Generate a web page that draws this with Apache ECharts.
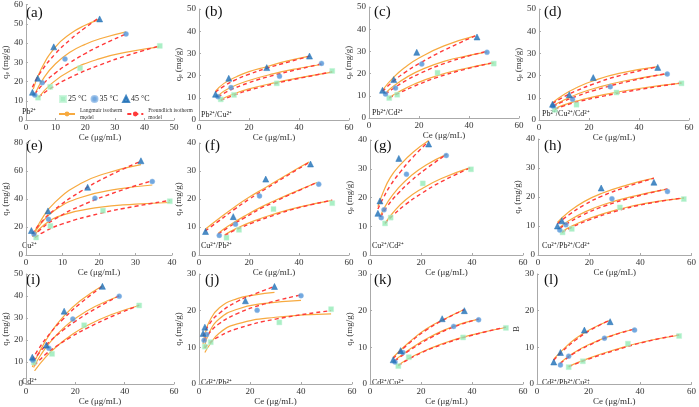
<!DOCTYPE html>
<html><head><meta charset="utf-8">
<script src="https://cdn.jsdelivr.net/npm/echarts@6/dist/echarts.min.js"></script>
<style>html,body{margin:0;padding:0;background:#fff}#c{width:699px;height:407px}</style>
</head><body><div id="c"></div>
<script>
// ---------------- DATA ----------------
const LETTERS = ['(a)','(b)','(c)','(d)','(e)','(f)','(g)','(h)','(i)','(j)','(k)','(l)'];
const METALS = ['Pb²⁺','Pb²⁺/Cu²⁺','Pb²⁺/Cd²⁺','Pb²⁺/Cu²⁺/Cd²⁺','Cu²⁺','Cu²⁺/Pb²⁺','Cu²⁺/Cd²⁺','Cu²⁺/Pb²⁺/Cd²⁺','Cd²⁺','Cd²⁺/Pb²⁺','Cd²⁺/Cu²⁺','Cd²⁺/Pb²⁺/Cu²⁺'];
const X_MAX = [50,60,60,60,40,60,60,60,60,60,60,60];
const X_STEP = [10,20,20,20,10,20,20,20,20,20,20,20];
const Y_MAX = [60,50,50,50,80,40,40,40,50,30,30,30];
const Y_STEP = [10,10,10,10,20,10,10,10,10,10,10,10];
const Y_NAMES = ['qₑ (mg/g)','qₑ (mg/g)','qₑ (mg/g)','qₑ (mg/g)','qₑ (mg/g)','qₑ (mg/g)','qₑ (mg/g)','qₑ (mg/g)','qₑ (mg/g)','qₑ (mg/g)','qₑ (mg/g)','B'];
const X_NAME = 'Ce (μg/mL)';
const TEMPS = ['25 °C','35 °C','45 °C'];
const LANG_NAME = 'Langmuir isotherm\nmodel';
const FREU_NAME = 'Freundlich isotherm\nmodel';

// (a)
const ptsA25 = [[4.1,11.6],[8.2,17.2],[18.3,26.9],[45.2,38.5]];
const ptsA35 = [[3.0,13.0],[5.5,19.4],[13.2,31.7],[33.8,44.7]];
const ptsA45 = [[2.2,14.4],[4.0,21.7],[9.4,38.0],[24.9,52.5]];
const langA25 = [[4.5,12.0],[8,18.0],[15,25.6],[25,31.9],[35,35.5],[45,38.0]];
const langA35 = [[3.2,14.0],[6,21.8],[10,29.2],[15,35.3],[20,39.3],[25,42.2],[33.8,45.8]];
const langA45 = [[2.5,16.0],[5,26.0],[10,38.0],[15,44.8],[20,49.2],[24.9,52.3]];
const freuA25 = [[4.3,11.8],[8,16.1],[15,22.1],[25,28.6],[35,33.9],[45.2,38.5]];
const freuA35 = [[3.0,13.5],[6,19.0],[10,24.5],[15,29.9],[20,34.5],[25,38.5],[33.8,44.7]];
const freuA45 = [[2.2,17.0],[5,24.9],[10,34.5],[15,41.8],[20,47.9],[24.9,53.4]];
// (b)
const ptsB25 = [[8.7,9.3],[14.0,11.3],[31.1,16.5],[53.3,22.1]];
const ptsB35 = [[7.6,10.5],[12.8,14.6],[32.2,19.7],[49.0,25.5]];
const ptsB45 = [[6.6,11.6],[11.9,18.8],[27.1,23.6],[44.2,28.8]];
const langB25 = [[8.7,9.2],[14,11.8],[20,14.0],[30,16.7],[42,19.4],[53.3,21.6]];
const langB35 = [[7.6,11],[12,14.3],[20,17.8],[30,20.9],[40,23.3],[49,25.0]];
const langB45 = [[6.6,13],[10,16.5],[15,19.5],[20,21.8],[27,24],[35,26.5],[44.2,28.8]];
const freuB25 = [[8.7,8.8],[14,11.2],[20,13.4],[30,16.3],[42,19.2],[53.3,21.7]];
const freuB35 = [[7.6,10.3],[12,13.2],[20,16.8],[30,20.2],[40,22.9],[49,25.3]];
const freuB45 = [[6.6,12.5],[10,15.3],[15,18.3],[20,20.6],[27,23.3],[35,25.9],[44.2,28.7]];
// (c)
const ptsC25 = [[8.1,9.0],[11.3,10.5],[27.4,20.4],[49.9,24.5]];
const ptsC35 = [[6.6,10.8],[10.6,13.5],[21.1,24.3],[47.2,29.6]];
const ptsC45 = [[5.4,12.5],[9.9,17.3],[19.1,29.6],[43.2,36.5]];
const langC25 = [[8.1,9.2],[12,11.8],[18,15.2],[27,19.0],[38,22.2],[49.9,24.8]];
const langC35 = [[6.6,11.2],[10,14.5],[15,18.3],[21,21.8],[30,25.5],[40,28.2],[47.2,29.8]];
const langC45 = [[5.4,12.5],[10,18.5],[15,23.3],[20,27.0],[30,32.5],[42.5,37.0]];
const freuC25 = [[8.1,9.0],[12,11.2],[18,14.3],[27,18.2],[38,21.8],[49.9,25.0]];
const freuC35 = [[6.6,10.8],[10,13.5],[15,17.0],[21,20.4],[30,24.5],[40,28.0],[47.2,30.0]];
const freuC45 = [[5.4,12.0],[10,16.8],[15,21.0],[20,24.5],[30,30.5],[42.5,37.0]];
// (d)
const ptsD25 = [[6.3,4.6],[15.0,6.9],[31.0,12.4],[57.0,16.5]];
const ptsD35 = [[5.6,6.3],[13.4,9.3],[28.5,15.0],[51.3,20.7]];
const ptsD45 = [[5.4,7.1],[12.1,11.4],[21.7,19.1],[47.5,23.7]];
const langD25 = [[6.3,5.0],[10,6.8],[16,8.8],[25,11.2],[40,14.2],[57,16.6]];
const langD35 = [[5.6,6.5],[10,9.0],[15,11.5],[22,14.2],[35,17.8],[51.3,20.8]];
const langD45 = [[5.4,7.8],[10,11.5],[15,14.5],[22,17.8],[32,21.0],[47.5,24.0]];
const freuD25 = [[6.3,4.8],[10,6.4],[16,8.3],[25,10.6],[40,13.7],[57,16.7]];
const freuD35 = [[5.6,6.2],[10,8.5],[15,10.7],[22,13.3],[35,17.2],[51.3,21.0]];
const freuD45 = [[5.4,7.4],[10,10.5],[15,13.2],[22,16.3],[32,19.9],[47.5,24.0]];
// (e)
const ptsE25 = [[2.8,12.5],[6.7,20.8],[21.1,31.7],[39.4,38.4]];
const ptsE35 = [[2.2,15.0],[6.2,25.5],[18.9,40.6],[34.6,52.5]];
const ptsE45 = [[1.5,17.5],[6.05,31.5],[16.9,48.4],[31.5,67.3]];
const langE25 = [[2.5,14.5],[5,21.6],[10,28.5],[20,34.0],[30,36.3],[39.4,37.5]];
const langE35 = [[2,13.5],[4,22.0],[8,32.2],[15,41.1],[25,47.0],[34.6,50]];
const langE45 = [[1.8,13.0],[4,24.3],[8,37.8],[15,51],[22,58.4],[31.5,64.5]];
const freuE25 = [[2.5,12.5],[5,16.6],[10,22.2],[20,29.5],[30,34.8],[39.4,39]];
const freuE35 = [[2,13],[4,18.3],[8,25.8],[15,35.1],[25,45.2],[34.6,53]];
const freuE45 = [[1.8,15],[4,22.8],[8,32.7],[15,45.4],[22,55.6],[31.5,67]];
// (f)
const ptsF25 = [[11.0,6.2],[16.0,9.0],[29.8,16.4],[53.3,18.5]];
const ptsF35 = [[8.1,7.0],[14.6,11.0],[24.2,21.1],[47.9,25.3]];
const ptsF45 = [[2.6,8.4],[13.7,13.7],[26.7,27.1],[44.6,32.5]];
const langF25 = [[10.3,7.2],[15,9.5],[22,12.2],[30,14.6],[40,17.1],[53.3,19.5]];
const langF35 = [[7.7,7.8],[12,10.5],[18,13.8],[25,17.2],[35,21.3],[47.2,25.9]];
const langF45 = [[2.5,9.2],[8,13.0],[14,17.0],[20,20.6],[27,24.3],[35,28.6],[44,33.2]];
const freuF25 = [[10.3,7.0],[15,9.1],[22,11.7],[30,14.2],[40,16.9],[53.3,19.6]];
const freuF35 = [[7.7,7.5],[12,10.0],[18,13.2],[25,16.7],[35,21.0],[47.2,25.9]];
const freuF45 = [[2.5,8.6],[8,12.2],[14,16.2],[20,19.9],[27,23.8],[35,28.2],[44,33.0]];
// (g)
const ptsG25 = [[5.9,11.0],[8.1,13.0],[20.7,24.9],[39.6,29.8]];
const ptsG35 = [[4.4,13.0],[5.5,15.7],[14.3,28.1],[29.9,34.6]];
const ptsG45 = [[3.1,14.5],[3.9,18.8],[11.3,33.6],[23.0,38.6]];
const langG25 = [[5.9,11.0],[9,14.7],[14,19.2],[20,22.9],[28,26.6],[39.3,30.4]];
const langG35 = [[4.2,13.9],[7,18.5],[11,23.2],[16,27.5],[22,31.3],[30,35.0]];
const langG45 = [[3.1,16.8],[5,21.5],[8,27],[12,31.5],[17,35.8],[23,39.8]];
const freuG25 = [[5.9,11.0],[9,13.8],[14,17.6],[20,21.3],[28,25.5],[39.3,30.3]];
const freuG35 = [[4.2,13.3],[7,17.2],[11,21.4],[16,25.7],[22,30.0],[30,35.0]];
const freuG45 = [[3.1,16.0],[5,19.5],[8,24.2],[12,29.0],[17,34.2],[23,39.5]];
// (h)
const ptsH25 = [[9.6,7.8],[13.2,9.0],[32.0,16.4],[57.0,19.3]];
const ptsH35 = [[8.5,8.6],[10.9,10.4],[28.9,19.4],[50.6,21.9]];
const ptsH45 = [[7.6,10.0],[9.3,11.8],[24.7,23.1],[45.3,25.1]];
const langH25 = [[9.4,8.1],[14,10.3],[20,12.6],[30,15.4],[42,17.8],[57,19.6]];
const langH35 = [[8.5,9.5],[12,11.8],[18,14.7],[26,17.5],[38,20.4],[50.6,22.7]];
const langH45 = [[7.6,11.2],[12,14.8],[18,18.4],[25,21.3],[35,24.2],[45.3,26.5]];
const freuH25 = [[9.4,7.8],[14,9.9],[20,12.1],[30,15.0],[42,17.6],[57,19.7]];
const freuH35 = [[8.5,9.2],[12,11.2],[18,14.0],[26,16.9],[38,20.1],[50.6,22.8]];
const freuH45 = [[7.6,10.8],[12,13.8],[18,17.2],[25,20.3],[35,23.6],[45.3,26.5]];
// (i)
const ptsI25 = [[3.2,9.8],[10.6,13.7],[23.6,26.7],[45.9,35.7]];
const ptsI35 = [[2.8,10.8],[9.3,16.3],[19.0,29.5],[37.8,39.9]];
const ptsI45 = [[2.6,12.2],[8.3,17.7],[15.5,33.1],[31.0,44.4]];
const langI25 = [[3.5,6.0],[8,12.2],[12,16.6],[18,21.9],[25,26.7],[35,31.7],[45.9,35.7]];
const langI35 = [[3.1,7.5],[6,13.2],[10,19.3],[15,25.2],[20,29.8],[28,35.2],[37.8,40]];
const langI45 = [[2.6,7.7],[5,13.6],[10,23.2],[15,30.4],[22,37.8],[31,44.7]];
const freuI25 = [[3.5,8.5],[8,13.5],[12,16.9],[18,21.2],[25,25.5],[35,30.8],[45.9,35.8]];
const freuI35 = [[3.0,10.3],[6,15.0],[10,19.7],[15,24.4],[20,28.5],[28,34.1],[37.8,40.1]];
const freuI45 = [[2.6,10.8],[5,15.7],[10,23.3],[15,29.4],[22,36.6],[31,44.4]];
// (j)
const ptsJ25 = [[2.3,10.2],[4.6,11.4],[31.5,16.8],[51.8,20.4]];
const ptsJ35 = [[2.0,11.9],[3.0,13.5],[22.8,20.1],[40.0,24.1]];
const ptsJ45 = [[1.6,13.8],[2.3,15.5],[18.2,22.7],[29.6,26.6]];
const langJ25 = [[2.3,8.6],[4,10.5],[8,13.9],[15,16.4],[30,18.2],[51.8,19.1]];
const langJ35 = [[2,9.8],[4,14.0],[8,17.8],[15,20.4],[25,21.9],[40,22.8]];
const langJ45 = [[1.6,10.9],[2.5,13.9],[4,17.0],[8,20.8],[15,23.3],[22,24.3],[29.6,25.0]];
const freuJ25 = [[2.3,9.8],[4,11.1],[8,13.0],[15,15.1],[30,17.7],[51.8,20.0]];
const freuJ35 = [[2,11.8],[4,13.9],[8,16.5],[15,19.2],[25,21.7],[40,24.3]];
const freuJ45 = [[1.6,13.0],[4,16.3],[8,19.3],[15,22.5],[22,24.6],[29.6,26.6]];
// (k)
const ptsK25 = [[11.1,4.9],[15.2,7.3],[36.5,12.7],[53.3,15.3]];
const ptsK35 = [[9.8,6.0],[12.9,8.6],[32.8,15.7],[42.6,17.5]];
const ptsK45 = [[9.1,6.6],[12.0,9.1],[28.3,17.8],[37.0,20.0]];
const langK25 = [[11.1,5.2],[18,8.0],[28,10.9],[40,13.4],[53.3,15.4]];
const langK35 = [[9.8,6.5],[16,9.7],[24,13.0],[33,15.8],[42.6,17.7]];
const langK45 = [[9.1,7.3],[15,11.2],[22,15.0],[30,18.0],[37,20.3]];
const freuK25 = [[11.1,5.0],[18,7.8],[28,10.7],[40,13.3],[53.3,15.5]];
const freuK35 = [[9.8,6.3],[16,9.4],[24,12.7],[33,15.6],[42.6,17.7]];
const freuK45 = [[9.1,7.0],[15,10.9],[22,14.7],[30,17.9],[37,20.3]];
// (l)
const ptsL25 = [[12.3,4.6],[17.8,6.2],[35.3,11.0],[55.2,13.1]];
const ptsL35 = [[9.1,5.2],[12.3,7.6],[26.2,12.5],[37.9,14.7]];
const ptsL45 = [[6.5,6.0],[9.1,8.6],[18.4,14.7],[28.4,17.0]];
const langL25 = [[12.3,4.8],[20,7.0],[30,9.3],[42,11.6],[55.2,13.3]];
const langL35 = [[9.1,5.8],[14,8.4],[20,10.7],[28,13.0],[37.9,15.0]];
const langL45 = [[6.5,6.8],[10,9.3],[15,12.4],[21,15.0],[28.4,17.4]];
const freuL25 = [[12.3,4.7],[20,6.8],[30,9.1],[42,11.5],[55.2,13.4]];
const freuL35 = [[9.1,5.6],[14,8.2],[20,10.5],[28,12.9],[37.9,15.0]];
const freuL45 = [[6.5,6.5],[10,9.0],[15,12.0],[21,14.8],[28.4,17.4]];

const PTS = [[ptsA25,ptsA35,ptsA45],[ptsB25,ptsB35,ptsB45],[ptsC25,ptsC35,ptsC45],[ptsD25,ptsD35,ptsD45],
  [ptsE25,ptsE35,ptsE45],[ptsF25,ptsF35,ptsF45],[ptsG25,ptsG35,ptsG45],[ptsH25,ptsH35,ptsH45],
  [ptsI25,ptsI35,ptsI45],[ptsJ25,ptsJ35,ptsJ45],[ptsK25,ptsK35,ptsK45],[ptsL25,ptsL35,ptsL45]];
const LANG = [[langA25,langA35,langA45],[langB25,langB35,langB45],[langC25,langC35,langC45],[langD25,langD35,langD45],
  [langE25,langE35,langE45],[langF25,langF35,langF45],[langG25,langG35,langG45],[langH25,langH35,langH45],
  [langI25,langI35,langI45],[langJ25,langJ35,langJ45],[langK25,langK35,langK45],[langL25,langL35,langL45]];
const FREU = [[freuA25,freuA35,freuA45],[freuB25,freuB35,freuB45],[freuC25,freuC35,freuC45],[freuD25,freuD35,freuD45],
  [freuE25,freuE35,freuE45],[freuF25,freuF35,freuF45],[freuG25,freuG35,freuG45],[freuH25,freuH35,freuH45],
  [freuI25,freuI35,freuI45],[freuJ25,freuJ35,freuJ45],[freuK25,freuK35,freuK45],[freuL25,freuL35,freuL45]];

// ---------------- LAYOUT / STYLE ----------------
const BOX = [[20,4,154,116],[199,9,150,111],[369,7,150,111],[539,9,150,111],
  [20,143,152,112],[199,143,150,112],[370,140,153,115],[538,139,156,116],
  [20,274,154,116],[199,274,153,116],[370,274,153,116],[537,274,155,116]];
const LETTER_POS = [[26,14],[205,13],[374,13],[544,13],[26,147],[205,147],[374,147],[544,147],[26,281],[205,281],[374,281],[544,281]];
const METAL_POS = [[22,113],[201,116],[372,114],[542,115],[22,247],[201,247],[372,247],[542,247],[22,383],[201,384],[372,384],[542,384]];
const SERIF = '"Liberation Serif","Times New Roman",serif';
const SYM = ['rect','circle','triangle'];
const SYM_SIZE = [5,5,6];
const COLORS = ['#93EBB6','#4F92D8','#1E6FB7'];
const BORDERS = ['#C2F4D6','#8EB9E6','#1E6FB7'];
const ORANGE = '#F7AA40';
const RED = '#FF3A3A';

const grids=[], xAxes=[], yAxes=[], series=[], graphics=[];
for (let i=0;i<12;i++){
  const [l,t,w,h]=BOX[i];
  grids.push({left:l,top:t,width:w,height:h});
  xAxes.push({type:'value',gridIndex:i,min:0,max:X_MAX[i],interval:X_STEP[i],
    axisLine:{show:true,onZero:false,lineStyle:{color:'#aaa',width:1}},
    axisTick:{show:true,inside:true,length:2,lineStyle:{color:'#aaa'}},
    axisLabel:{fontSize:9,fontFamily:SERIF,color:'#333',margin:3},
    splitLine:{show:false},
    name:X_NAME,nameLocation:'middle',nameGap:13,
    nameTextStyle:{fontSize:9,fontFamily:SERIF,color:'#333'}});
  yAxes.push({type:'value',gridIndex:i,min:0,max:Y_MAX[i],interval:Y_STEP[i],
    axisLine:{show:true,onZero:false,lineStyle:{color:'#aaa',width:1}},
    axisTick:{show:true,inside:true,length:2,lineStyle:{color:'#aaa'}},
    axisLabel:{fontSize:9,fontFamily:SERIF,color:'#333',margin:3},
    splitLine:{show:false},
    name:Y_NAMES[i],nameLocation:'middle',nameGap:12,nameRotate:90,
    nameTextStyle:{fontSize:9,fontFamily:SERIF,color:'#333'}});
  for (let k=0;k<3;k++){
    series.push({type:'line',name:LANG_NAME,xAxisIndex:i,yAxisIndex:i,data:LANG[i][k],smooth:true,
      symbol:'none',lineStyle:{color:ORANGE,width:1.2},itemStyle:{color:ORANGE},z:2,silent:true});
    series.push({type:'line',name:FREU_NAME,xAxisIndex:i,yAxisIndex:i,data:FREU[i][k],smooth:true,
      symbol:'none',lineStyle:{color:RED,width:1.4,type:[4,3]},itemStyle:{color:RED},z:3,silent:true});
  }
  for (let k=0;k<3;k++){
    series.push({type:'scatter',name:TEMPS[k],xAxisIndex:i,yAxisIndex:i,data:PTS[i][k],
      symbol:SYM[k],symbolSize:SYM_SIZE[k],
      itemStyle:{color:COLORS[k],borderColor:BORDERS[k],borderWidth:0.6},z:5,silent:true});
  }
  graphics.push({type:'text',left:LETTER_POS[i][0],top:LETTER_POS[i][1]-8,
    style:{text:LETTERS[i],font:'15px '+SERIF,fill:'#111'}});
  graphics.push({type:'text',left:METAL_POS[i][0],top:METAL_POS[i][1]-5,
    style:{text:METALS[i],font:'8px '+SERIF,fill:'#222'}});
}

const chart = echarts.init(document.getElementById('c'),null,{renderer:'canvas'});
chart.setOption({
  animation:false,
  backgroundColor:'#fff',
  grid:grids, xAxis:xAxes, yAxis:yAxes, series:series,
  legend:[
    {data:TEMPS,left:54,top:90,itemWidth:6,itemHeight:6,itemGap:4,orient:'horizontal',
      textStyle:{fontSize:8,fontFamily:SERIF,color:'#222',padding:[0,0,0,-3]},selectedMode:false},
    {data:[LANG_NAME,FREU_NAME],left:53,top:102,itemWidth:16,itemHeight:6,itemGap:4,
      textStyle:{fontSize:5.5,fontFamily:SERIF,color:'#333',lineHeight:7},selectedMode:false}
  ],
  graphic:graphics
});
</script></body></html>
